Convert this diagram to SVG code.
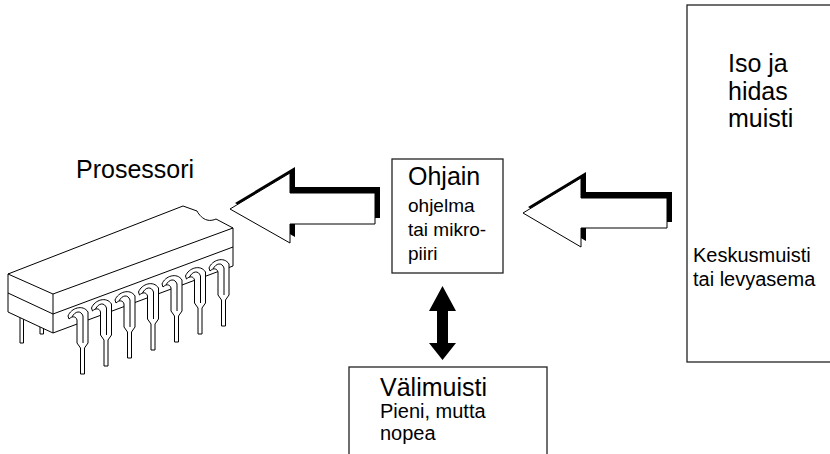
<svg xmlns="http://www.w3.org/2000/svg" width="830" height="454" viewBox="0 0 830 454">
  <defs>
    <style>
      .box { fill: #fff; stroke: #222; stroke-width: 1.3; }
      .t { font-family: "Liberation Sans", Arial, sans-serif; fill: #000; }
      .big { font-size: 25px; }
      .small { font-size: 19px; }
      .note { font-size: 20px; }
      .chip { fill: #fff; stroke: #000; stroke-width: 1; stroke-linejoin: round; }
      .line { fill: none; stroke: #000; stroke-width: 1; }
      .shadow { fill: #000; }
      .arrow { fill: #fff; stroke: #000; stroke-width: 1; }
      .solid { fill: #000; }
    </style>
    <!-- one front pin of the DIP package, origin at the top of its bend -->
    <g id="pin">
      <path class="chip" d="M-9,9 C-6,1 6,-3 11,5 L11,36 L7.5,41 L7.5,67 L3.5,67 L3.5,41 L0,36 L0,13 C-1,9 -5,9 -8,12 Z"/>
      <path class="line" d="M-5,10 C-2,4 4,3 6,9 L6,36"/>
    </g>
  </defs>

  <!-- Processor: DIP chip drawing -->
  <g id="prosessori">
    <!-- back row legs -->
    <rect class="chip" x="20" y="305" width="3.5" height="38"/>
    <rect class="chip" x="40" y="315" width="3.5" height="19"/>
    <!-- package body -->
    <path class="chip" d="M8,274 L8,312 L53,333 L233,266 L233,228 Z"/>
    <path class="chip" d="M8,274 L183,206 L197,211 C199,215 203,219 207,220 C210,221 214,220 216,219 L233,228 L53,294 Z"/>
    <path class="line" d="M53,294 L53,333 M8,293 L53,314 L233,247"/>
    <!-- front row pins -->
    <use href="#pin" x="77" y="307"/>
    <use href="#pin" x="100.5" y="299"/>
    <use href="#pin" x="124" y="291"/>
    <use href="#pin" x="147.5" y="283"/>
    <use href="#pin" x="171" y="275"/>
    <use href="#pin" x="194.5" y="267"/>
    <use href="#pin" x="218" y="259"/>
    <text class="t big" x="76" y="178">Prosessori</text>
  </g>

  <g id="ohjain">
    <rect class="box" x="392" y="159" width="111" height="114"/>
    <text class="t big" x="408" y="185">Ohjain</text>
    <text class="t small" x="408" y="212">ohjelma</text>
    <text class="t small" x="408" y="236">tai mikro-</text>
    <text class="t small" x="408" y="260">piiri</text>
  </g>

  <g id="muisti">
    <rect class="box" x="687" y="5" width="160" height="357"/>
    <text class="t big" x="728" y="72">Iso ja</text>
    <text class="t big" x="728" y="100">hidas</text>
    <text class="t big" x="728" y="127">muisti</text>
    <text class="t note" x="693" y="262">Keskusmuisti</text>
    <text class="t note" x="693" y="286">tai levyasema</text>
  </g>

  <g id="valimuisti">
    <rect class="box" x="349" y="367" width="198" height="100"/>
    <text class="t big" x="380" y="396">Välimuisti</text>
    <text class="t note" x="380" y="418">Pieni, mutta</text>
    <text class="t note" x="380" y="440">nopea</text>
  </g>

  <g id="connectors">
    <!-- Ohjain to processor -->
    <polygon class="shadow" points="235,203 295,167 295,187 380,187 380,218 295,218 295,237"/>
    <polygon class="arrow" points="230,209 290,173 290,193 375,193 375,224 290,224 290,243"/>
    <!-- main memory to Ohjain -->
    <polygon class="shadow" points="528,207 586,172 586,192 672,192 672,222 586,222 586,241"/>
    <polygon class="arrow" points="523,213 581,178 581,198 667,198 667,228 581,228 581,247"/>
    <!-- Ohjain to cache, both ways -->
    <polygon class="solid" points="442.5,286 456,311 448,311 448,343 456,343 442.5,360 429,343 437,343 437,311 429,311"/>
  </g>
</svg>
